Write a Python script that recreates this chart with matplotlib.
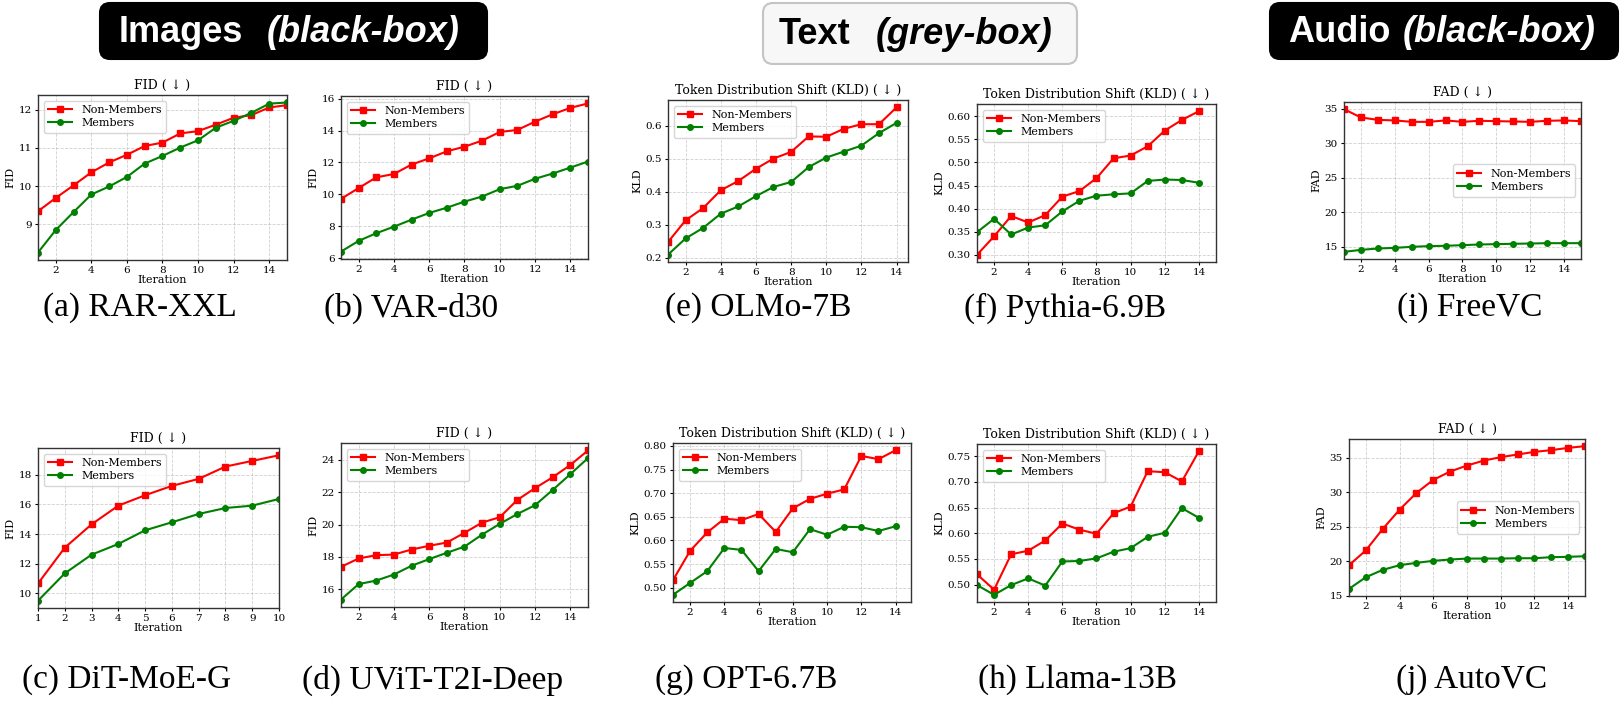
import matplotlib
matplotlib.use("Agg")
import matplotlib.pyplot as plt
from matplotlib.patches import FancyBboxPatch
from matplotlib import font_manager

# ---------------- data ----------------
iters15 = list(range(1, 16))
iters14 = list(range(1, 15))
iters10 = list(range(1, 11))

rar_non = [9.34, 9.69, 10.02, 10.36, 10.62, 10.82, 11.05, 11.14, 11.38, 11.44, 11.61, 11.79, 11.86, 12.06, 12.12]
rar_mem = [8.26, 8.85, 9.32, 9.78, 9.99, 10.24, 10.59, 10.79, 11.01, 11.20, 11.53, 11.71, 11.92, 12.16, 12.19]

var_non = [9.72, 10.40, 11.07, 11.28, 11.87, 12.26, 12.70, 12.99, 13.37, 13.91, 14.04, 14.56, 15.02, 15.42, 15.70]
var_mem = [6.42, 7.09, 7.57, 7.98, 8.42, 8.84, 9.17, 9.55, 9.87, 10.33, 10.54, 10.98, 11.31, 11.68, 12.06]

dit_non = [10.67, 13.08, 14.65, 15.91, 16.61, 17.24, 17.71, 18.54, 18.92, 19.30]
dit_mem = [9.51, 11.35, 12.61, 13.33, 14.25, 14.79, 15.35, 15.75, 15.91, 16.36]

uvit_non = [17.39, 17.91, 18.11, 18.15, 18.46, 18.69, 18.89, 19.49, 20.12, 20.45, 21.52, 22.24, 22.91, 23.67, 24.56]
uvit_mem = [15.38, 16.33, 16.55, 16.92, 17.46, 17.87, 18.26, 18.64, 19.38, 20.04, 20.65, 21.19, 22.13, 23.10, 24.09]

olmo_non = [0.248, 0.314, 0.351, 0.405, 0.433, 0.470, 0.501, 0.521, 0.568, 0.567, 0.591, 0.605, 0.605, 0.656]
olmo_mem = [0.210, 0.259, 0.291, 0.334, 0.356, 0.387, 0.415, 0.430, 0.475, 0.504, 0.522, 0.540, 0.578, 0.609]

pythia_non = [0.300, 0.340, 0.384, 0.370, 0.386, 0.426, 0.438, 0.466, 0.509, 0.515, 0.535, 0.569, 0.592, 0.611]
pythia_mem = [0.349, 0.378, 0.344, 0.359, 0.364, 0.394, 0.417, 0.428, 0.431, 0.433, 0.460, 0.463, 0.462, 0.456]

opt_non = [0.516, 0.578, 0.617, 0.646, 0.643, 0.656, 0.618, 0.668, 0.688, 0.699, 0.708, 0.779, 0.772, 0.791]
opt_mem = [0.485, 0.510, 0.535, 0.584, 0.580, 0.535, 0.582, 0.575, 0.624, 0.612, 0.629, 0.628, 0.620, 0.630]

llama_non = [0.520, 0.490, 0.559, 0.566, 0.586, 0.619, 0.607, 0.599, 0.639, 0.652, 0.721, 0.719, 0.701, 0.760]
llama_mem = [0.499, 0.480, 0.499, 0.512, 0.498, 0.545, 0.546, 0.551, 0.564, 0.571, 0.593, 0.601, 0.649, 0.630]

freevc_non = [34.95, 33.74, 33.40, 33.31, 33.11, 33.11, 33.31, 33.11, 33.26, 33.21, 33.16, 33.11, 33.26, 33.31, 33.21]
freevc_mem = [14.27, 14.56, 14.76, 14.85, 15.00, 15.10, 15.15, 15.24, 15.34, 15.39, 15.44, 15.48, 15.53, 15.53, 15.53]

autovc_non = [19.40, 21.55, 24.65, 27.44, 29.87, 31.76, 32.97, 33.84, 34.56, 35.05, 35.44, 35.82, 36.07, 36.40, 36.65]
autovc_mem = [15.97, 17.66, 18.72, 19.40, 19.74, 20.03, 20.22, 20.36, 20.36, 20.36, 20.41, 20.41, 20.56, 20.61, 20.70]

captions = ["(a) RAR-XXL", "(b) VAR-d30", "(e) OLMo-7B", "(f) Pythia-6.9B", "(i) FreeVC",
            "(c) DiT-MoE-G", "(d) UViT-T2I-Deep", "(g) OPT-6.7B", "(h) Llama-13B", "(j) AutoVC"]
series_labels = ["Non-Members", "Members"]
fid_title = "FID ( \u2193 )"
kld_title = "Token Distribution Shift (KLD) ( \u2193 )"
fad_title = "FAD ( \u2193 )"

# ---------------- layout ----------------
W, H = 1624, 704
fig = plt.figure(figsize=(W / 100, H / 100), dpi=100)

serif = ["DejaVu Serif", "DejaVu Sans"]

panels = [
    # (x, non, mem, title, ylabel, xlim, legend loc, box(l,t,r,b), caption)
    (iters15, rar_non, rar_mem, fid_title, "FID", (1, 15), "upper left", (38, 95, 287, 260), captions[0], None),
    (iters15, var_non, var_mem, fid_title, "FID", (1, 15), "upper left", (341, 96, 588, 259), captions[1], None),
    (iters14, olmo_non, olmo_mem, kld_title, "KLD", (1, 14.65), "upper left", (668, 100, 908, 262), captions[2], None),
    (iters14, pythia_non, pythia_mem, kld_title, "KLD", (1, 15), "upper left", (977, 104, 1216, 262), captions[3], None),
    (iters15, freevc_non, freevc_mem, fad_title, "FAD", (1, 15), "center right", (1344, 102, 1581, 259), captions[4], None),
    (iters10, dit_non, dit_mem, fid_title, "FID", (1, 10), "upper left", (38, 448, 279, 608), captions[5], iters10),
    (iters15, uvit_non, uvit_mem, fid_title, "FID", (1, 15), "upper left", (341, 443, 588, 607), captions[6], None),
    (iters14, opt_non, opt_mem, kld_title, "KLD", (1, 14.9), "upper left", (673, 443, 911, 602), captions[7], None),
    (iters14, llama_non, llama_mem, kld_title, "KLD", (1, 15), "upper left", (977, 444, 1216, 602), captions[8], None),
    (iters15, autovc_non, autovc_mem, fad_title, "FAD", (1, 15), "center right", (1349, 439, 1585, 596), captions[9], None),
]

caption_pos = [(140, 308), (411, 308), (758, 308), (1065, 308), (1470, 308),
               (127, 680), (433, 680), (746, 680), (1077, 680), (1472, 680)]

for (x, non, mem, title, ylab, xlim, loc, box, cap, xt), (cx, cy) in zip(panels, caption_pos):
    l, t, r, b = box
    ax = fig.add_axes([l / W, 1 - b / H, (r - l) / W, (b - t) / H])
    ax.plot(x, non, color="red", marker="s", markersize=4, lw=1.5, label=series_labels[0])
    ax.plot(x, mem, color="green", marker="o", markersize=4, lw=1.5, label=series_labels[1])
    ax.set_xlim(*xlim)
    if xt is not None:
        ax.set_xticks(xt)
    else:
        ax.set_xticks([2, 4, 6, 8, 10, 12, 14])
    ax.grid(True, linestyle="--", color="#b0b0b0", alpha=0.6, lw=0.6)
    ax.set_axisbelow(True)
    for s in ax.spines.values():
        s.set_color("#333333")
        s.set_linewidth(1.0)
    ax.tick_params(labelsize=7.5, length=2.5, width=0.8, pad=2)
    for lab in ax.get_xticklabels() + ax.get_yticklabels():
        lab.set_family(serif)
    ax.set_title(title, fontsize=9, family=serif, pad=4)
    ax.set_xlabel("Iteration", fontsize=8, family=serif, labelpad=0)
    ax.set_ylabel(ylab, fontsize=8, family=serif, labelpad=2)
    ax.legend(loc=loc, prop={"family": serif, "size": 8}, handlelength=2.2,
              borderpad=0.4, labelspacing=0.3, framealpha=0.8)
    fig.text(cx / W, 1 - cy / H, cap, ha="center", va="center",
             fontsize=24, family=["Liberation Serif", "DejaVu Serif"])

# ---------------- header boxes ----------------
available = {f.name for f in font_manager.fontManager.ttflist}
if "Liberation Sans Narrow" in available:
    hfam = ["Liberation Sans Narrow", "DejaVu Sans"]
    hsize = 30
else:
    hfam = ["Liberation Sans", "DejaVu Sans"]
    hsize = 26

headers = [
    # box (l, t, r, b), face, edge, text color, word, word x, italic part, italic x
    ((100, 3, 487, 59), "black", "black", "white", "Images", 119, "(black-box)", 267),
    ((763, 3, 1077, 64), "#f7f7f7", "#c4c4c4", "black", "Text", 779, "(grey-box)", 876),
    ((1270, 3, 1618, 59), "black", "black", "white", "Audio", 1288, "(black-box)", 1403),
]
for (l, t, r, b), fc, ec, tc, word, wx, ital, ix in headers:
    patch = FancyBboxPatch((l / 100, (H - b) / 100), (r - l) / 100, (b - t) / 100,
                           boxstyle="round,pad=0,rounding_size=0.1",
                           facecolor=fc, edgecolor=ec, lw=1.5,
                           transform=fig.dpi_scale_trans)
    fig.add_artist(patch)
    ymid = (t + b) / 2 + 1
    fig.text(wx / W, 1 - ymid / H, word, ha="left", va="center", color=tc,
             fontsize=hsize, fontweight="bold", family=hfam)
    fig.text(ix / W, 1 - ymid / H, ital, ha="left", va="center", color=tc,
             fontsize=hsize, fontweight="bold", fontstyle="italic", family=hfam)

fig.savefig("out.png", dpi=100)
